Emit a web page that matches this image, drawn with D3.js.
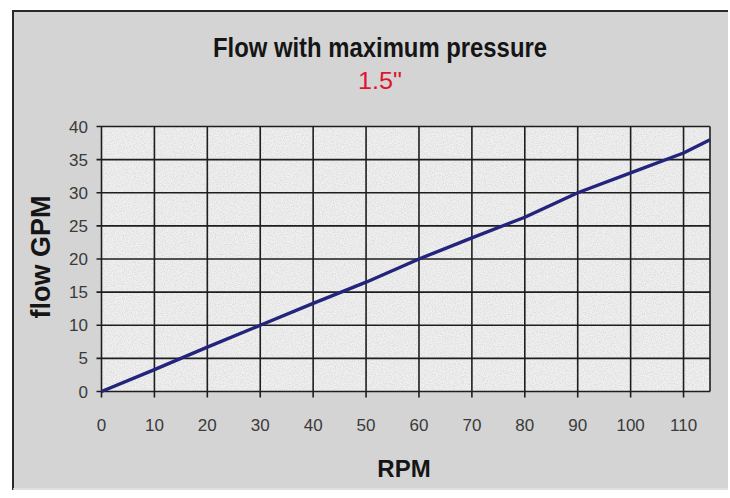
<!DOCTYPE html>
<html>
<head>
<meta charset="utf-8">
<title>Flow with maximum pressure</title>
<script src="https://d3js.org/d3.v7.min.js"></script>
<style>
    body { margin: 0; background: #fff; }
    svg { display: block; }
    text { font-family: "Liberation Sans", Arial, sans-serif; }
</style>
</head>
<body>
<svg id="chart" width="730" height="498"></svg>
<script>
    'use strict';

    // data
    const rpm  = [0, 10, 20, 30, 40, 50, 60, 70, 80, 90, 100, 110, 115];
    const flow = [0, 3.3, 6.7, 10, 13.3, 16.5, 20, 23.2, 26.3, 30, 33, 36, 38];
    const xTicks = [0, 10, 20, 30, 40, 50, 60, 70, 80, 90, 100, 110];
    const yTicks = [0, 5, 10, 15, 20, 25, 30, 35, 40];

    const svg = d3.select('#chart');

    const defs = svg.append('defs');
    const f = defs.append('filter').attr('id', 'speckle')
        .attr('x', 0).attr('y', 0).attr('width', 1).attr('height', 1);
    f.append('feTurbulence').attr('type', 'fractalNoise')
        .attr('baseFrequency', 0.9).attr('numOctaves', 2).attr('seed', 3);
    f.append('feColorMatrix').attr('type', 'matrix')
        .attr('values', '0 0 0 0 0.55  0 0 0 0 0.55  0 0 0 0 0.55  0 0 0 -1.6 1.05');

    // outer frame
    svg.append('rect').attr('x', 12).attr('y', 10).attr('width', 716).attr('height', 480)
        .attr('fill', '#d4d4d4');
    svg.append('path').attr('d', 'M13,490 V11 H728')
        .attr('fill', 'none').attr('stroke', '#2a2a2a').attr('stroke-width', 2);
    svg.append('line').attr('x1', 13).attr('x2', 728).attr('y1', 489).attr('y2', 489)
        .attr('stroke', '#e4e4e4').attr('stroke-width', 1.5);

    const margin = { left: 101.5, top: 126.5, right: 710, bottom: 391.5 };

    const x = d3.scaleLinear().domain([0, 115]).range([margin.left, margin.right]);
    const y = d3.scaleLinear().domain([0, 40]).range([margin.bottom, margin.top]);

    // plot background
    svg.append('rect')
        .attr('x', margin.left).attr('y', margin.top)
        .attr('width', margin.right - margin.left).attr('height', margin.bottom - margin.top)
        .attr('fill', '#f1f1f1');
    svg.append('rect')
        .attr('x', margin.left).attr('y', margin.top)
        .attr('width', margin.right - margin.left).attr('height', margin.bottom - margin.top)
        .attr('fill', '#fff').attr('filter', 'url(#speckle)').attr('opacity', 0.6);

    // grid
    const grid = svg.append('g').attr('stroke', '#1e1e1e').attr('stroke-width', 1.6);
    grid.selectAll('.v').data(xTicks).join('line')
        .attr('x1', d => x(d)).attr('x2', d => x(d))
        .attr('y1', margin.top).attr('y2', margin.bottom + 6);
    grid.selectAll('.h').data(yTicks).join('line')
        .attr('y1', d => y(d)).attr('y2', d => y(d))
        .attr('x1', margin.left - 5).attr('x2', margin.right);
    grid.append('line').attr('x1', margin.right).attr('x2', margin.right)
        .attr('y1', margin.top).attr('y2', margin.bottom);

    // tick labels
    svg.append('g').selectAll('text').data(xTicks).join('text')
        .attr('x', d => x(d)).attr('y', 431)
        .attr('text-anchor', 'middle').attr('font-size', 17).attr('fill', '#3a3a3a')
        .text(d => d);
    svg.append('g').selectAll('text').data(yTicks).join('text')
        .attr('x', 88).attr('y', d => y(d) + 6)
        .attr('text-anchor', 'end').attr('font-size', 17).attr('fill', '#3a3a3a')
        .text(d => d);

    // series
    const line = d3.line().x((d, i) => x(rpm[i])).y(d => y(d));
    svg.append('path').datum(flow)
        .attr('d', line)
        .attr('fill', 'none').attr('stroke', '#24247c').attr('stroke-width', 3.4)
        .attr('stroke-linejoin', 'round');

    // titles
    svg.append('text').attr('x', 380).attr('y', 57).attr('text-anchor', 'middle')
        .attr('font-size', 27).attr('font-weight', 'bold').attr('fill', '#151515')
        .attr('textLength', 334).attr('lengthAdjust', 'spacingAndGlyphs')
        .text('Flow with maximum pressure');
    svg.append('text').attr('x', 380).attr('y', 89).attr('text-anchor', 'middle')
        .attr('font-size', 24).attr('fill', '#e0142e')
        .attr('textLength', 44).attr('lengthAdjust', 'spacingAndGlyphs')
        .text('1.5"');
    svg.append('text').attr('x', 404).attr('y', 477).attr('text-anchor', 'middle')
        .attr('font-size', 24).attr('font-weight', 'bold').attr('fill', '#151515')
        .text('RPM');
    svg.append('text').attr('transform', 'translate(50,257) rotate(-90)')
        .attr('text-anchor', 'middle')
        .attr('font-size', 27).attr('font-weight', 'bold').attr('fill', '#151515')
        .text('flow GPM');
</script>
</body>
</html>
